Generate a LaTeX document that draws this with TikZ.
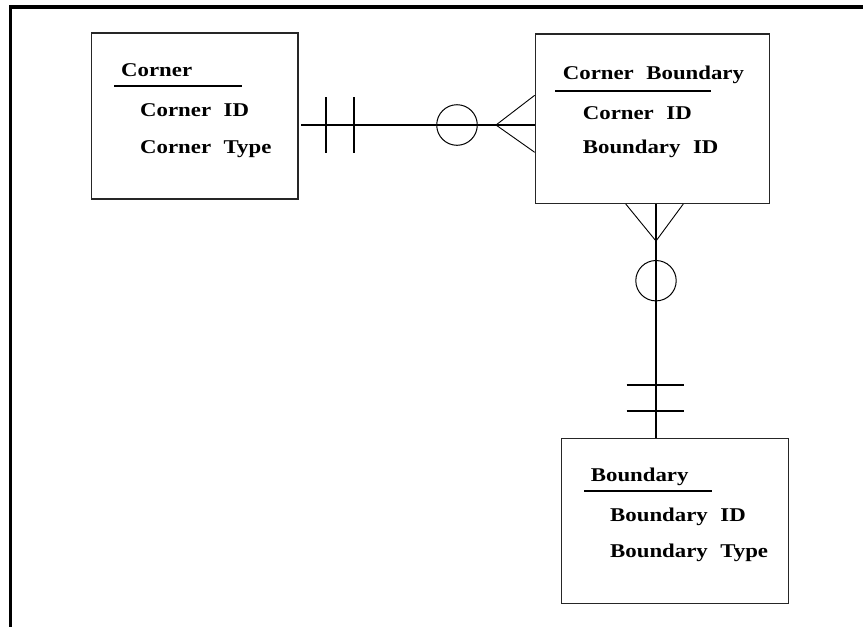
\documentclass[tikz,border=0pt]{standalone}
\usepackage{fontspec}
\newfontfamily\erfont[FakeStretch=1.17,WordSpace=2.2]{Liberation Serif}
\begin{document}
\begin{tikzpicture}[x=1pt,y=-1pt,
  entity/.style={draw=black!85,line width=1.2pt,rectangle,inner sep=0pt},
  etext/.style={anchor=base west,inner sep=0pt,font=\erfont\bfseries\fontsize{19.5}{22}\selectfont},
  uline/.style={line width=1.8pt},
  conn/.style={line width=2pt},
  bar/.style={line width=2pt},
  thinl/.style={line width=0.9pt},
  circ/.style={line width=1pt}]
\useasboundingbox (0,0) rectangle (863,627);
% frame
\draw[line width=3.5pt] (10.7,627) -- (10.7,7) -- (863,7);

% entities
\node[entity,minimum width=206.3pt,minimum height=166pt] (corner) at (194.9,116) {};
\node[entity,minimum width=234pt,minimum height=169.3pt] (cb) at (652.3,118.7) {};
\node[entity,minimum width=226.6pt,minimum height=165pt] (bd) at (675,520.8) {};

% Corner texts
\node[etext] (t1) at (121,76) {Corner};
\draw[uline] (114,86) -- (242,86);
\node[etext] (t2) at (140,116.7) {Corner ID};
\node[etext] (t3) at (140,153.3) {Corner Type};

% Corner Boundary texts
\node[etext] (t4) at (562.7,79.3) {Corner Boundary};
\draw[uline] (555,91.3) -- (710.7,91.3);
\node[etext] (t5) at (582.7,119.3) {Corner ID};
\node[etext] (t6) at (582.7,153.5) {Boundary ID};

% Boundary texts
\node[etext] (t7) at (590.7,481.7) {Boundary};
\draw[uline] (584,490.7) -- (711.7,490.7);
\node[etext] (t8) at (610,521.7) {Boundary ID};
\node[etext] (t9) at (610,557.3) {Boundary Type};

% horizontal relationship Corner -- Corner Boundary
\coordinate (h0) at (301,125);
\coordinate (hapex) at (496,125);
\draw[conn] (h0) -- (h0 -| cb.west);
\draw[bar] (326,97.3) -- (326,153.3);
\draw[bar] (354,97.3) -- (354,153.3);
\draw[circ,fill=white] (457,125) circle (20.3);
\draw[conn] (437,125) -- (477,125);
\draw[thinl] (cb.west |- 0,95.3) -- (hapex) -- (cb.west |- 0,152.3);

% vertical relationship Corner Boundary -- Boundary
\coordinate (v0) at (656,0);
\coordinate (vapex) at (656,241);
\draw[conn] (cb.south -| v0) -- (bd.north -| v0);
\draw[thinl] (625.7,0 |- cb.south) -- (vapex) -- (683.3,0 |- cb.south);
\draw[circ] (656,280.7) circle (20.2);
\draw[bar] (626.7,384.7) -- (684,384.7);
\draw[bar] (626.7,411.3) -- (684,411.3);
\end{tikzpicture}
\end{document}
